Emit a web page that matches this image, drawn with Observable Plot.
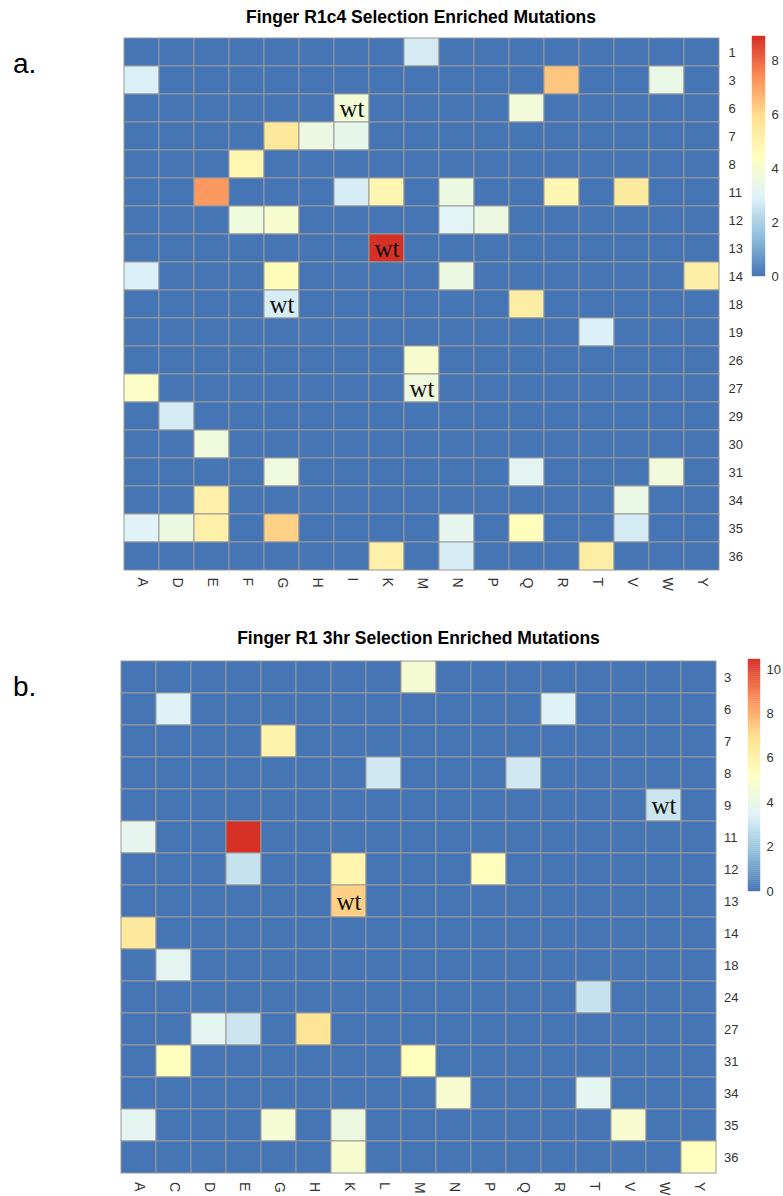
<!DOCTYPE html>
<html>
<head>
<meta charset="utf-8">
<script src="https://cdn.jsdelivr.net/npm/d3@7"></script>
<script src="https://cdn.jsdelivr.net/npm/@observablehq/plot@0.6"></script>
<style>
  html, body { margin: 0; padding: 0; background: #fff; }
  body { width: 783px; height: 1196px; position: relative; overflow: hidden; font-family: "Liberation Sans", Arial, sans-serif; }
  .abs { position: absolute; }
  .panel { position: absolute; left: 13px; font-size: 28px; line-height: 1; color: #000; font-family: "Liberation Sans", Arial, sans-serif; }
  .title { position: absolute; text-align: center; white-space: nowrap; font-weight: bold; font-size: 17.5px; line-height: 1;
           font-family: "Liberation Sans Narrow", "Arial Narrow", "Liberation Sans", sans-serif; color: #000; }
  svg { overflow: visible; background: transparent !important; max-width: none !important; }
</style>
</head>
<body>
<div class="title" style="left:118px;width:606px;top:9px;">Finger R1c4 Selection Enriched Mutations</div>
<div class="panel" style="top:50px;">a.</div>
<div class="title" style="left:118px;width:601px;top:630px;">Finger R1 3hr Selection Enriched Mutations</div>
<div class="panel" style="top:673px;">b.</div>
<div id="hmA" class="abs" style="left:0;top:0;width:783px;"></div>
<div id="legA" class="abs" style="left:752px;top:28px;width:40px;"></div>
<div id="hmB" class="abs" style="left:0;top:620px;width:783px;"></div>
<div id="legB" class="abs" style="left:748px;top:651px;width:40px;"></div>
<script>
// ---------- shared palette (pheatmap default: reversed RdYlBu, 7 colours) ----------
const palette = ["#4575B4", "#91BFDB", "#E0F3F8", "#FFFFBF", "#FEE090", "#FC8D59", "#D73027"];

// ---------- panel a: Finger R1c4 ----------
const colsA = ["A","D","E","F","G","H","I","K","M","N","P","Q","R","T","V","W","Y"];
const rowsA = ["1","3","6","7","8","11","12","13","14","18","19","26","27","29","30","31","34","35","36"];
// non-zero enrichment values: [row, column, value]
const valuesA = [
  ["1","M",2.75],
  ["3","A",2.85],["3","R",6.4],["3","W",3.4],
  ["6","I",3.85],["6","Q",3.8],
  ["7","G",5.55],["7","H",3.55],["7","I",3.3],
  ["8","F",4.9],
  ["11","E",7.2],["11","I",2.8],["11","K",4.9],["11","N",3.6],["11","R",4.9],["11","V",5.45],
  ["12","F",3.7],["12","G",4.05],["12","N",3.05],["12","P",3.55],
  ["13","K",8.9],
  ["14","A",2.85],["14","G",4.6],["14","N",3.6],["14","Y",5.2],
  ["18","G",2.8],["18","Q",5.3],
  ["19","T",2.9],
  ["26","M",4.1],
  ["27","A",4.25],["27","M",3.65],
  ["29","D",2.75],
  ["30","E",3.7],
  ["31","G",3.65],["31","Q",3.1],["31","W",3.75],
  ["34","E",5.15],["34","V",3.45],
  ["35","A",3.0],["35","D",3.6],["35","E",5.15],["35","G",6.2],["35","N",3.25],["35","Q",4.5],["35","V",2.75],
  ["36","K",5.15],["36","N",2.8],["36","T",5.3]
];
const wtA = [["6","I"],["13","K"],["18","G"],["27","M"]];
const maxA = 8.9;
const legendTicksA = [0, 2, 4, 6, 8];

// ---------- panel b: Finger R1 3hr ----------
const colsB = ["A","C","D","E","G","H","K","L","M","N","P","Q","R","T","V","W","Y"];
const rowsB = ["3","6","7","8","9","11","12","13","14","18","24","27","31","34","35","36"];
const valuesB = [
  ["3","M",4.6],
  ["6","C",3.45],["6","R",3.45],
  ["7","G",5.95],
  ["8","L",3.1],["8","Q",3.1],
  ["9","W",3.0],
  ["11","A",3.8],["11","E",10.45],
  ["12","E",2.9],["12","K",5.8],["12","P",5.3],
  ["13","K",7.3],
  ["14","A",6.5],
  ["18","C",3.7],
  ["24","T",2.9],
  ["27","D",3.7],["27","E",3.0],["27","H",6.75],
  ["31","C",5.25],["31","M",5.25],
  ["34","N",4.7],["34","T",3.7],
  ["35","A",3.7],["35","G",4.65],["35","K",4.2],["35","V",4.7],
  ["36","K",4.75],["36","Y",5.2]
];
const wtB = [["9","W"],["13","K"]];
const maxB = 10.45;
const legendTicksB = [0, 2, 4, 6, 8, 10];

// ---------- helpers ----------
function buildTable(rows, cols, values, wt) {
  const m = new Map(values.map(([r, c, v]) => [r + "|" + c, v]));
  const w = new Set(wt.map(([r, c]) => r + "|" + c));
  return rows.flatMap(r => cols.map(c => ({row: r, col: c, value: m.get(r + "|" + c) ?? 0, wt: w.has(r + "|" + c)})));
}
function colorScale(max) {
  return {type: "linear", domain: palette.map((_, i) => i * max / (palette.length - 1)), range: palette, interpolate: "rgb"};
}
const labelFont = "'Liberation Sans Narrow', 'Arial Narrow', 'Liberation Sans', sans-serif";

function heatmap(o) {
  const data = buildTable(o.rows, o.cols, o.values, o.wt);
  return Plot.plot({
    width: 783, height: o.height,
    marginTop: o.mt, marginBottom: o.mb, marginLeft: o.ml, marginRight: o.mr,
    x: {domain: o.cols, padding: 0, axis: null},
    y: {domain: o.rows, padding: 0, axis: null},
    color: colorScale(o.max),
    style: {fontFamily: labelFont, fontSize: "13px", color: "#333", background: "transparent", overflow: "visible"},
    marks: [
      Plot.cell(data, {x: "col", y: "row", fill: "value", stroke: "#999999", strokeWidth: 1}),
      Plot.text(data.filter(d => d.wt), {x: "col", y: "row", text: () => "wt", fontFamily: "'Liberation Serif', serif", fontSize: 25, fill: "#111", dy: 0}),
      Plot.text(o.rows, {y: d => d, text: d => d, frameAnchor: "right", dx: 4, textAnchor: "start", fill: "#333"}),
      Plot.text(o.cols, {x: d => d, text: d => d, frameAnchor: "bottom", dy: 6, rotate: 90, textAnchor: "start", lineAnchor: "middle", fontSize: 14, fill: "#333"})
    ]
  });
}

function legend(o) {
  const n = 120;
  const stripes = d3.range(n).map(i => ({y1: i * o.max / n, y2: (i + 1) * o.max / n, v: (i + 0.5) * o.max / n}));
  return Plot.plot({
    width: o.w, height: o.h,
    marginTop: 8, marginBottom: 8, marginLeft: 0, marginRight: o.w - o.barW,
    x: {axis: null},
    y: {domain: [0, o.max], axis: null},
    color: colorScale(o.max),
    style: {fontFamily: labelFont, fontSize: "13px", color: "#333", background: "transparent", overflow: "visible"},
    marks: [
      Plot.rect(stripes, {y1: "y1", y2: "y2", fill: "v", stroke: "v", strokeWidth: 0.4}),
      Plot.text(o.ticks, {y: d => d, text: d => String(d), frameAnchor: "right", dx: 6, textAnchor: "start", fill: "#333"})
    ]
  });
}

document.getElementById("hmA").append(heatmap({rows: rowsA, cols: colsA, values: valuesA, wt: wtA, max: maxA,
  height: 600, mt: 36, mb: 29, ml: 118, mr: 59}));
document.getElementById("legA").append(legend({max: maxA, ticks: legendTicksA, w: 40, h: 256, barW: 13}));
document.getElementById("hmB").append(heatmap({rows: rowsB, cols: colsB, values: valuesB, wt: wtB, max: maxB,
  height: 576, mt: 39, mb: 20.5, ml: 118, mr: 63.5}));
document.getElementById("legB").append(legend({max: maxB, ticks: legendTicksB, w: 40, h: 248, barW: 12}));
</script>
</body>
</html>
